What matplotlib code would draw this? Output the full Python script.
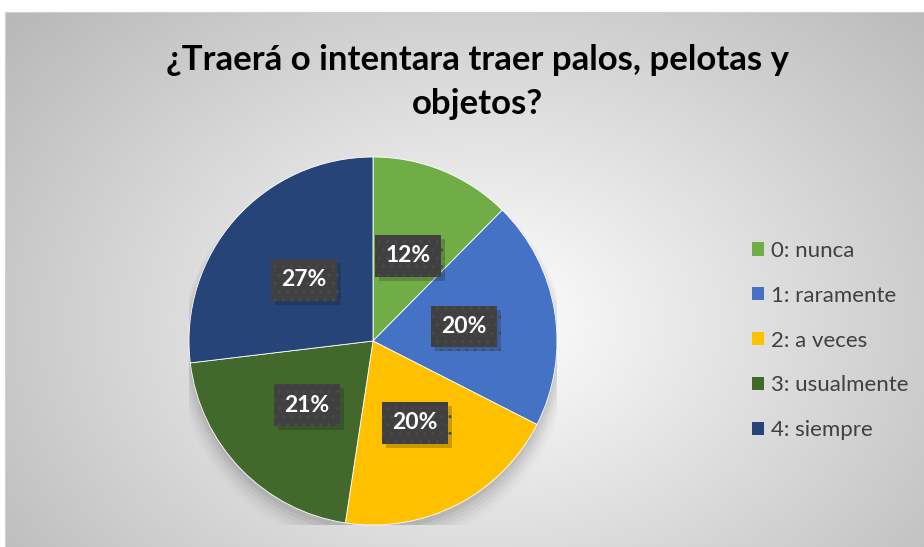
import matplotlib.pyplot as plt
import matplotlib.patheffects as pe
import numpy as np
from matplotlib.patches import Patch, Circle

categories = ["0: nunca", "1: raramente", "2: a veces", "3: usualmente", "4: siempre"]
values = [12.4, 20.1, 19.9, 20.7, 26.9]
pct_labels = ["12%", "20%", "20%", "21%", "27%"]
colors = ["#70AD47", "#4472C4", "#FFC000", "#43682B", "#264478"]
title = "¿Traerá o intentara traer palos, pelotas y\nobjetos?"

W, H = 924, 547
fig = plt.figure(figsize=(W / 100, H / 100), dpi=100)
plt.rcParams["font.family"] = ["Lato", "DejaVu Sans"]

# radial gradient background of the chart area
bg = fig.add_axes([5 / W, 0, 1 - 5 / W, (H - 12) / H])
yy, xx = np.mgrid[0:H - 12, 0:W - 5]
cx, cy = 480, 310
d = np.sqrt(((xx - cx) / 560.0) ** 2 + ((yy - cy) / 420.0) ** 2)
shade = 1.0 - 0.25 * np.clip(d, 0, 1.1)
bg.imshow(np.dstack([shade] * 3), aspect="auto", extent=(0, 1, 0, 1), origin="upper")
bg.set_xticks([])
bg.set_yticks([])
for s in bg.spines.values():
    s.set_color("#d0d0d0")
    s.set_linewidth(0.8)

# pie
R = 184
pcx, pcy = 373, 341
ax = fig.add_axes([(pcx - R) / W, (H - pcy - R) / H, 2 * R / W, 2 * R / H])
ax.set_facecolor("none")

# soft shadow under the pie
for i, a in enumerate(np.linspace(0.05, 0.01, 6)):
    ax.add_patch(Circle((0.0, -0.03 - 0.01 * i), 1.0 + 0.012 * i, color="black", alpha=a, lw=0, zorder=0))

wedges, texts = ax.pie(
    values,
    colors=colors,
    startangle=90,
    counterclock=False,
    radius=1.0,
    wedgeprops=dict(edgecolor="white", linewidth=0.6),
)
ax.set_xlim(-1, 1)
ax.set_ylim(-1, 1)
ax.axis("off")

angle = 90.0
total = sum(values)
for v, lab in zip(values, pct_labels):
    mid = np.deg2rad(angle - v / total * 360 / 2)
    angle -= v / total * 360
    x, y = 0.5 * np.cos(mid), 0.5 * np.sin(mid)
    t = ax.text(x, y, lab, ha="center", va="center", fontsize=16.5, fontweight="bold", color="white",
                bbox=dict(boxstyle="square,pad=0.45", facecolor="#404040", edgecolor="#4a4a4a",
                          hatch="..", linewidth=0))
    t.get_bbox_patch().set_path_effects([pe.SimplePatchShadow(offset=(3, -3), alpha=0.22), pe.Normal()])

fig.text(477 / W, 1 - 82 / H, title, ha="center", va="center", fontsize=25, fontweight="bold",
         color="black", linespacing=1.5)

handles = [Patch(facecolor=c, edgecolor="none") for c in colors]
leg = fig.legend(handles, categories, loc="center left", bbox_to_anchor=(752 / W, 1 - 340.5 / H),
                 frameon=False, fontsize=16, handlelength=0.55, handleheight=0.55,
                 handletextpad=0.3, labelspacing=1.12, labelcolor="#404040",
                 borderpad=0, borderaxespad=0)

fig.savefig("out.png", dpi=100)
